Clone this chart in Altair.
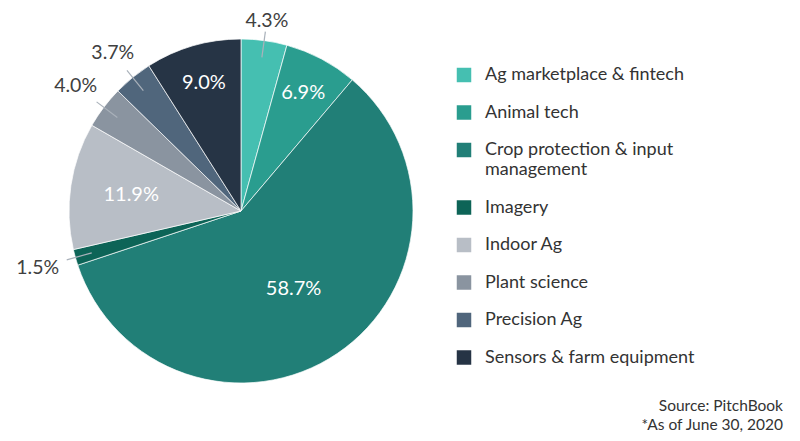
import altair as alt
import pandas as pd

categories = ["Ag marketplace & fintech", "Animal tech", "Crop protection & input management",
              "Imagery", "Indoor Ag", "Plant science", "Precision Ag", "Sensors & farm equipment"]
shares = [4.3, 6.9, 58.7, 1.5, 11.9, 4.0, 3.7, 9.0]
colors = ["#45BFB1", "#2A9D8F", "#217F77", "#0D6457", "#B8BEC6", "#8A94A0", "#50667C", "#263445"]
outside = [True, False, False, True, False, True, True, False]

df = pd.DataFrame({"cat": categories, "share": shares, "outside": outside,
                   "idx": list(range(len(categories)))})

FONT = "Lato"
CX, CY, R = 233, 203, 172
W, H = 784, 425

base = alt.Chart(df).transform_window(
    cum="sum(share)", sort=[alt.SortField("idx")], frame=[None, 0]
).transform_calculate(
    a0="datum.cum - datum.share",
    a1="datum.cum",
    ang="(datum.cum - datum.share/2) / 100 * 2 * PI",
    lbl="format(datum.share, '.1f') + '%'",
)

theta_scale = alt.Scale(domain=[0, 100], range=[0, 6.283185307179586])
xs = alt.Scale(domain=[-CX, W - CX], range=[0, W])
ys = alt.Scale(domain=[-(H - CY), CY], range=[H, 0])

arcs = base.mark_arc(radius=R, stroke="white", strokeWidth=0.7).encode(
    theta=alt.Theta("a0:Q", scale=theta_scale),
    theta2="a1:Q",
    x=alt.value(CX), y=alt.value(CY),
    color=alt.Color("cat:N", scale=alt.Scale(domain=categories, range=colors),
                    legend=alt.Legend(
                        title=None, orient="none", legendX=447, legendY=58,
                        symbolType="square", symbolSize=210, symbolStrokeWidth=0,
                        labelFont=FONT, labelFontSize=18, labelColor="#333333",
                        labelLimit=400, rowPadding=19.5, labelOffset=12,
                        labelExpr="datum.label == 'Crop protection & input management' ? ['Crop protection & input', 'management'] : datum.label",
                    )),
    order=alt.Order("idx:Q"),
)

inside_lbl = base.transform_filter("!datum.outside").transform_calculate(
    rr="datum.share > 50 ? 94 : (datum.share > 10 ? 111 : 133)",
    lx="sin(datum.ang) * datum.rr",
    ly="cos(datum.ang) * datum.rr",
).mark_text(font=FONT, fontSize=20, color="white", baseline="middle", align="center").encode(
    x=alt.X("lx:Q", scale=xs, axis=None),
    y=alt.Y("ly:Q", scale=ys, axis=None),
    text="lbl:N",
)

outside_lbl = base.transform_filter("datum.outside").transform_calculate(
    rr="189 + 23 * abs(sin(datum.ang))",
    lx="sin(datum.ang) * datum.rr",
    ly="cos(datum.ang) * datum.rr",
).mark_text(font=FONT, fontSize=19.5, color="#404040", baseline="middle", align="center").encode(
    x=alt.X("lx:Q", scale=xs, axis=None),
    y=alt.Y("ly:Q", scale=ys, axis=None),
    text="lbl:N",
)

leaders = base.transform_filter("datum.outside").transform_calculate(
    x1="sin(datum.ang) * 155", y1="cos(datum.ang) * 155",
    x2="sin(datum.ang) * 181", y2="cos(datum.ang) * 181",
).mark_rule(color="#A9B1BA", strokeWidth=1.2).encode(
    x=alt.X("x1:Q", scale=xs, axis=None),
    y=alt.Y("y1:Q", scale=ys, axis=None),
    x2="x2:Q", y2="y2:Q",
)

source_lines = ["Source: PitchBook", "*As of June 30, 2020"]
src = alt.Chart(pd.DataFrame({"t": [source_lines]})).mark_text(
    font=FONT, fontSize=15.5, color="#333333", align="right", baseline="middle", lineHeight=19
).encode(x=alt.value(775), y=alt.value(398), text="t")

chart = alt.layer(arcs, leaders, inside_lbl, outside_lbl, src).properties(
    width=W, height=H, padding=0,
    autosize=alt.AutoSizeParams(type="none"),
).configure_view(stroke=None).resolve_scale(x="shared", y="shared")

chart.save("out.html", embed_options={"renderer": "svg", "actions": False})
